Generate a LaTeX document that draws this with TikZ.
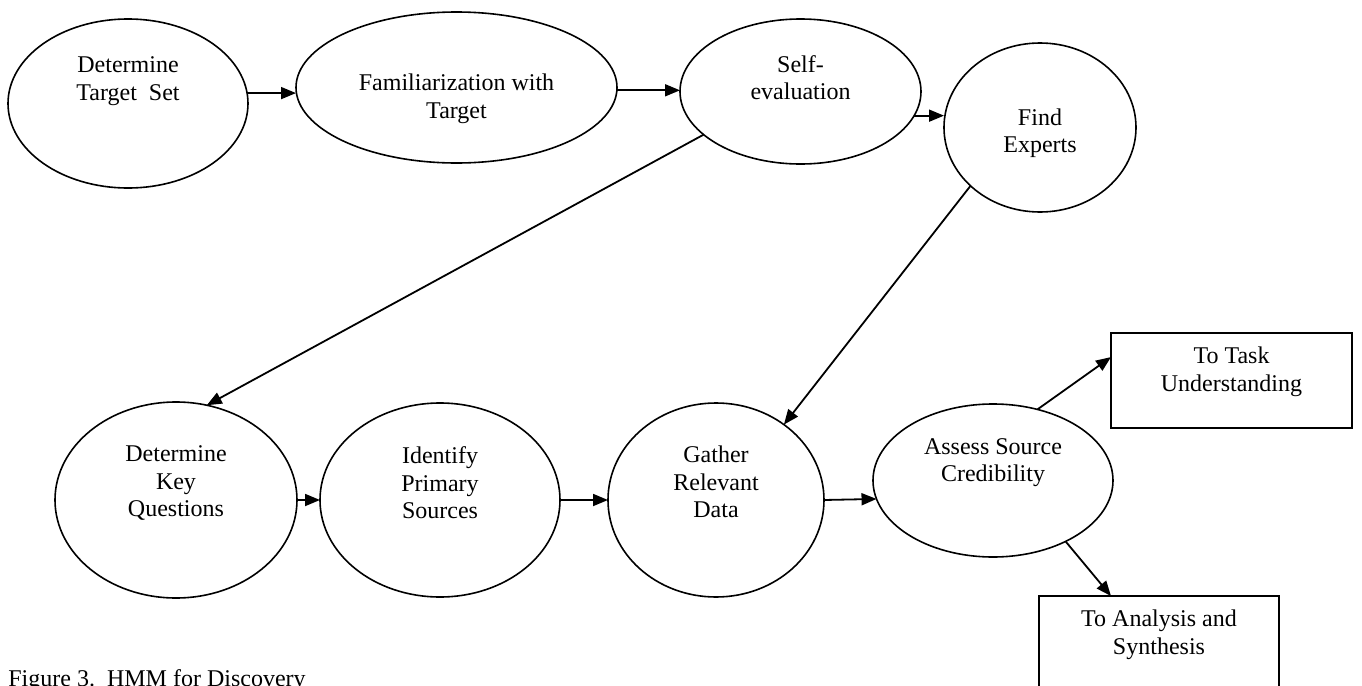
\documentclass[tikz,border=0pt]{standalone}
\usepackage{fontspec}
\setmainfont{Liberation Serif}
\usetikzlibrary{shapes.geometric,arrows.meta}

\begin{document}
\begin{tikzpicture}[x=0.5pt,y=-0.5pt,
		oval/.style={draw,ellipse,line width=0.8pt,inner sep=0pt,outer sep=0pt},
		stepbox/.style={draw,rectangle,line width=0.8pt,inner sep=0pt,outer sep=0pt},
		lbl/.style={align=center,inner sep=0pt,font=\fontsize{12pt}{13.75pt}\selectfont},
		arr/.style={line width=0.9pt,-{Triangle[length=7.5pt,width=6pt]}}]
			\useasboundingbox (0,0) rectangle (1362,686);
			\clip (0,0) rectangle (1362,686);
			\node[oval,minimum width=120pt,minimum height=84.5pt] (tset) at (128,103.5) {};
			\node[oval,minimum width=160.5pt,minimum height=75.5pt] (famil) at (456.5,87.5) {};
			\node[oval,minimum width=120.5pt,minimum height=72.5pt] (selfev) at (800.5,91.5) {};
			\node[oval,minimum width=96pt,minimum height=84.5pt] (experts) at (1040,127.5) {};
			\node[oval,minimum width=121pt,minimum height=98pt] (keyq) at (176,500) {};
			\node[oval,minimum width=120pt,minimum height=97pt] (primsrc) at (440,500) {};
			\node[oval,minimum width=108pt,minimum height=97pt] (gather) at (716,500) {};
			\node[oval,minimum width=120pt,minimum height=76.5pt] (assess) at (993,480.5) {};
			\node[stepbox,minimum width=120.5pt,minimum height=47.5pt] (tasku) at (1231.5,380.5) {};
			\node[stepbox,minimum width=120pt,minimum height=48pt] (synth) at (1159,644) {};
			\node[lbl] (tsetlbl) at (128,81) {Determine\\Target\ \ Set};
			\node[lbl] (famillbl) at (456.5,99) {Familiarization with\\Target};
			\node[lbl] (selfevlbl) at (800.5,77.5) {Self-\\evaluation};
			\node[lbl] (expertslbl) at (1040,133) {Find\\Experts};
			\node[lbl] (keyqlbl) at (176,483) {Determine\\Key\\Questions};
			\node[lbl] (primsrclbl) at (440,483) {Identify\\Primary\\Sources};
			\node[lbl] (gatherlbl) at (716,482) {Gather\\Relevant\\Data};
			\node[lbl] (assesslbl) at (993,462.5) {Assess Source\\Credibility};
			\node[lbl] (taskulbl) at (1231.5,372) {To Task\\Understanding};
			\node[lbl] (synthlbl) at (1159,635) {To Analysis and\\Synthesis};
			\node[lbl,anchor=base west] (caption) at (8,686) {Figure 3.\ \ HMM for Discovery};
			\draw[arr] (tset.5.5) -- (tset.5.5 -| famil.west);
			\draw[arr] (famil.-1.6) -- (famil.-1.6 -| selfev.west);
			\draw[arr] (selfev.-12.7) -- (selfev.-12.7 -| experts.west);
			\draw[arr] (selfev.204.8) -- (keyq.72);
			\draw[arr] (experts.220) -- (gather.48.8);
			\draw[arr] (keyq.east) -- (primsrc.west);
			\draw[arr] (primsrc.east) -- (gather.west);
			\draw[arr] (gather.east) -- (assess.189.5);
			\draw[arr] (assess.58.8) -- (tasku.169.4);
			\draw[arr] (assess.320.4) -- (synth.135.6);
		\end{tikzpicture}
\end{document}
